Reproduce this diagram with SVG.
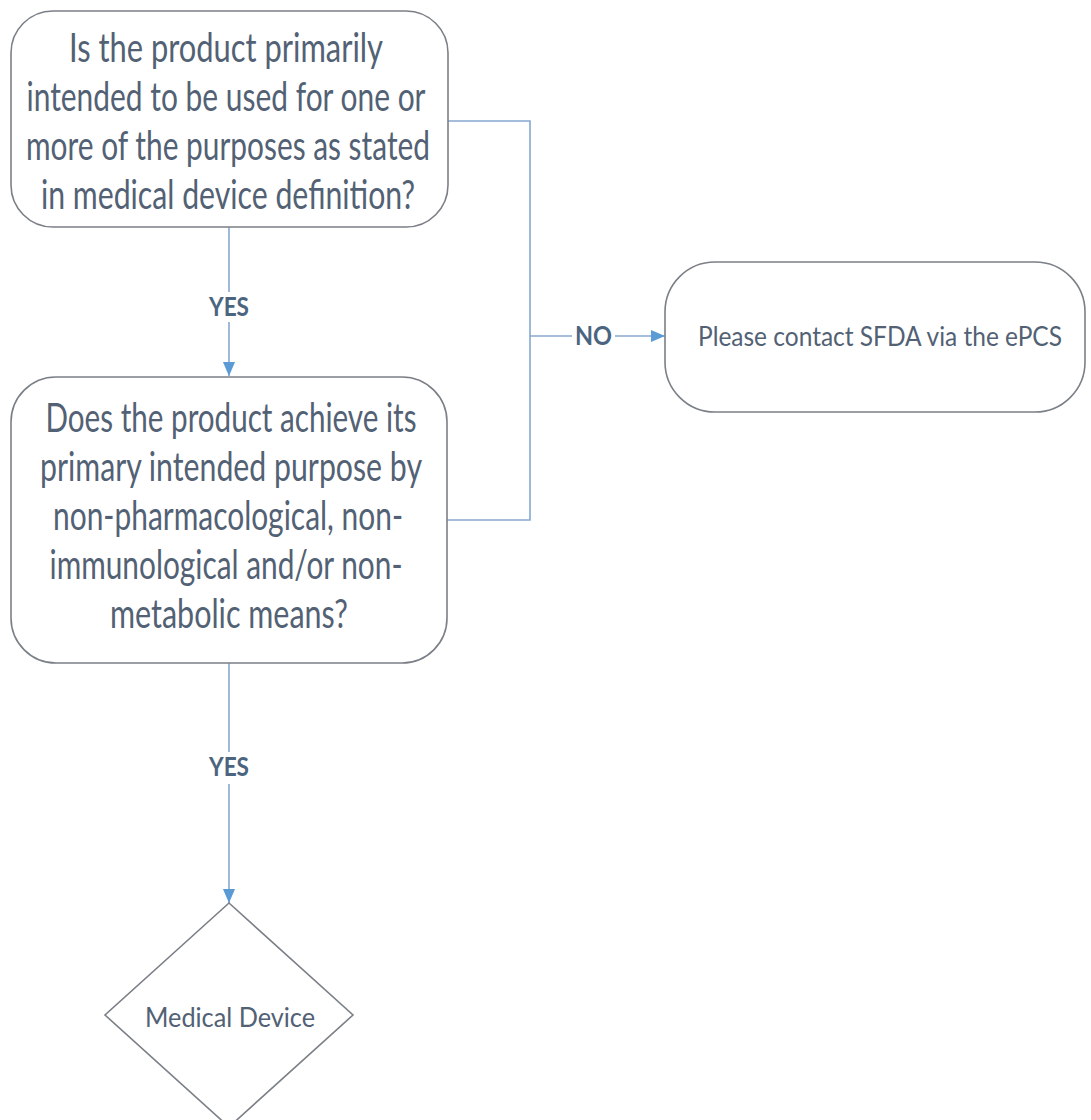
<svg xmlns="http://www.w3.org/2000/svg" width="1091" height="1120" viewBox="0 0 1091 1120">
<style>
.box{fill:#ffffff;stroke:#7b8087;stroke-width:1.6}
.t{font-family:Lato,"Open Sans","Liberation Sans",sans-serif;fill:#526174;text-anchor:middle}
.big{font-size:41px}
.mid{font-size:27px}
.lbl{font-family:Lato,"Open Sans","Liberation Sans",sans-serif;font-weight:bold;font-size:26px;fill:#4b6580;text-anchor:middle}
.c{fill:none;stroke:#86a8d0;stroke-width:1.6}
</style>
<defs>
<marker id="ah" markerWidth="14" markerHeight="14" viewBox="0 0 15 13" refX="15" refY="6.5" markerUnits="userSpaceOnUse" orient="auto">
<path d="M0,0 L15,6.5 L0,13 Z" fill="#5b9bd5"/>
</marker>
</defs>
<rect width="1091" height="1120" fill="#ffffff"/>
<g id="connectors">
<path class="c" d="M229,227 V292"/>
<path class="c" d="M229,322 V376" marker-end="url(#ah)"/>
<path class="c" d="M448,121 H530 V520 H447"/>
<path class="c" d="M530,336 H572"/>
<path class="c" d="M615,336 H665" marker-end="url(#ah)"/>
<path class="c" d="M229,663 V752"/>
<path class="c" d="M229,784 V903" marker-end="url(#ah)"/>
<text class="lbl" x="229" y="316" textLength="40" lengthAdjust="spacingAndGlyphs">YES</text>
<text class="lbl" x="229" y="776" textLength="40" lengthAdjust="spacingAndGlyphs">YES</text>
<text class="lbl" x="593.5" y="345" textLength="37" lengthAdjust="spacingAndGlyphs">NO</text>
</g>
<g id="q1">
<rect class="box" x="11" y="11" width="437" height="216" rx="42"/>
<text class="t big" x="226" y="62" textLength="314" lengthAdjust="spacingAndGlyphs">Is the product primarily</text>
<text class="t big" x="226" y="111" textLength="399" lengthAdjust="spacingAndGlyphs">intended to be used for one or</text>
<text class="t big" x="228" y="160" textLength="404" lengthAdjust="spacingAndGlyphs">more of the purposes as stated</text>
<text class="t big" x="228" y="209" textLength="374" lengthAdjust="spacingAndGlyphs">in medical device definition?</text>
</g>
<g id="q2">
<rect class="box" x="11" y="377" width="436" height="286" rx="45"/>
<text class="t big" x="231" y="432" textLength="371" lengthAdjust="spacingAndGlyphs">Does the product achieve its</text>
<text class="t big" x="231" y="481" textLength="382" lengthAdjust="spacingAndGlyphs">primary intended purpose by</text>
<text class="t big" x="228" y="530" textLength="350" lengthAdjust="spacingAndGlyphs">non-pharmacological, non-</text>
<text class="t big" x="226" y="579" textLength="353" lengthAdjust="spacingAndGlyphs">immunological and/or non-</text>
<text class="t big" x="229" y="628" textLength="238" lengthAdjust="spacingAndGlyphs">metabolic means?</text>
</g>
<g id="contact">
<rect class="box" x="665" y="262" width="420" height="150" rx="50"/>
<text class="t mid" x="880" y="346" textLength="364" lengthAdjust="spacingAndGlyphs">Please contact SFDA via the ePCS</text>
</g>
<g id="device">
<polygon class="box" points="229,903 353,1015 229,1127 105,1015"/>
<text class="t mid" x="230" y="1027" textLength="170" lengthAdjust="spacingAndGlyphs">Medical Device</text>
</g>
</svg>
